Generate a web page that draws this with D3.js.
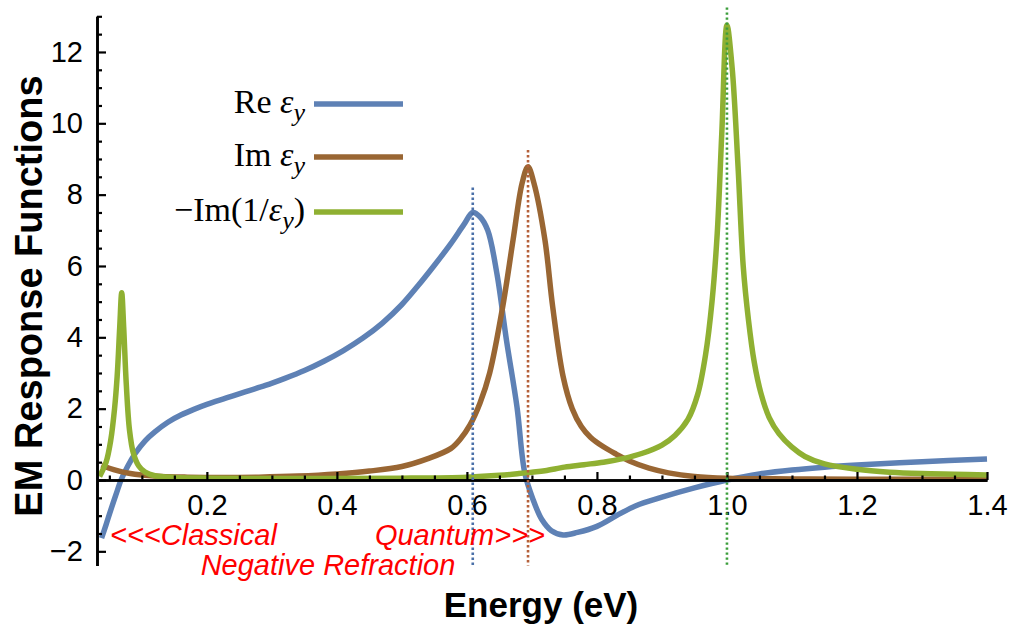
<!DOCTYPE html>
<html>
<head>
<meta charset="utf-8">
<script src="https://cdn.jsdelivr.net/npm/d3@7"></script>
<style>
body{margin:0;background:#fff;}
svg{display:block;}
</style>
</head>
<body>
<div id="chart"></div>
<script>
// values
var reEnergy = [0.038,0.045,0.052,0.06,0.068,0.078,0.09,0.105,0.12,0.14,0.16,0.18,0.2,0.23,0.26,0.29,0.32,0.35,0.38,0.41,0.44,0.47,0.5,0.525,0.55,0.575,0.595,0.609,0.62,0.632,0.646,0.661,0.677,0.689,0.702,0.715,0.73,0.748,0.77,0.8,0.83,0.86,0.9,0.95,1.0,1.05,1.1,1.15,1.2,1.3,1.4];
var reValue  = [-1.63,-1.25,-0.85,-0.42,0,0.38,0.75,1.1,1.35,1.62,1.82,1.98,2.12,2.3,2.48,2.65,2.85,3.07,3.33,3.63,3.98,4.4,4.92,5.45,6.02,6.62,7.15,7.5,7.38,7.0,5.8,3.9,2.05,0.2,-0.56,-1.1,-1.42,-1.54,-1.47,-1.3,-1.0,-0.72,-0.48,-0.22,0,0.17,0.28,0.36,0.42,0.51,0.59];

var imEnergy = [0.038,0.05,0.065,0.08,0.1,0.13,0.17,0.22,0.28,0.34,0.4,0.45,0.5,0.54,0.575,0.59,0.605,0.62,0.635,0.655,0.671,0.685,0.694,0.703,0.72,0.732,0.748,0.762,0.776,0.79,0.81,0.83,0.85,0.88,0.91,0.95,1.0,1.1,1.2,1.3,1.4];
var imValue  = [0.42,0.33,0.25,0.19,0.14,0.1,0.08,0.07,0.08,0.11,0.17,0.25,0.38,0.6,0.88,1.15,1.55,2.15,3.0,4.85,6.73,8.33,8.78,8.33,6.73,4.85,2.9,2.0,1.5,1.2,0.93,0.72,0.53,0.33,0.2,0.1,0.05,0.03,0.02,0.02,0.02];

var elEnergy = [0.035,0.045,0.052,0.058,0.062,0.066,0.069,0.072,0.076,0.081,0.087,0.095,0.105,0.12,0.15,0.2,0.3,0.4,0.5,0.6,0.65,0.68,0.7,0.72,0.75,0.78,0.81,0.84,0.87,0.9,0.92,0.94,0.955,0.967,0.977,0.985,0.992,1.0,1.008,1.017,1.025,1.033,1.042,1.052,1.065,1.08,1.1,1.12,1.15,1.2,1.25,1.3,1.35,1.4];
var elValue  = [0.1,0.5,1.1,2.0,2.9,4.3,5.25,4.3,2.7,1.4,0.75,0.4,0.22,0.12,0.07,0.05,0.04,0.04,0.05,0.08,0.13,0.18,0.22,0.26,0.36,0.43,0.5,0.6,0.75,0.98,1.25,1.7,2.4,3.5,5.0,6.9,9.7,12.75,11.55,8.8,6.0,4.5,3.3,2.45,1.75,1.3,0.92,0.66,0.45,0.3,0.22,0.18,0.16,0.14];

// marker lines: energy and top value
var markEnergy = [0.609, 0.694, 1.0];
var markTop = [8.2, 9.25, 13.25];

var xMajor = [0.2,0.4,0.6,0.8,1.0,1.2,1.4];
var yMajor = [-2,0,2,4,6,8,10,12];

var colors = {re:"#5e81b5", im:"#996633", el:"#8fb032"};
var markColors = ["#4b70a8","#b5603a","#3c9e3c"];

var screen = {width:1018, height:630};

var svg = d3.select("#chart")
    .append("svg")
    .attr("width",screen.width)
    .attr("height",screen.height);

var xScale = d3.scaleLinear()
    .domain([0.031,1.4])
    .range([97,987]);

var yScale = d3.scaleLinear()
    .domain([-2.4,13.0])
    .range([565.6,16.3]);

//minor ticks
var xMinor = d3.range(0.05,1.401,0.05).filter(function(v){
    return !xMajor.some(function(m){return Math.abs(m-v)<1e-6;});
});
var yMinor = d3.range(-2,13.01,0.5).filter(function(v){
    return v % 2 !== 0;
});

var axisStyle = function(g){
    g.selectAll("path").attr("stroke","#000").attr("stroke-width",2.6);
    g.selectAll("line").attr("stroke","#000").attr("stroke-width",2.2);
    g.selectAll("text")
        .attr("font-family","'Liberation Sans', Arial, sans-serif")
        .attr("font-size",29)
        .attr("fill","#000");
};

var plot = svg.append("g");

var line = function(xs, ys){
    return d3.line()
        .x(function(d,i){return xScale(xs[i]);})
        .y(function(d){return yScale(d);})
        .curve(d3.curveCatmullRom.alpha(0.5))(ys);
};

plot.append("path")
    .attr("d",line(reEnergy,reValue))
    .attr("fill","none").attr("stroke",colors.re).attr("stroke-width",5.5)
    .attr("stroke-linejoin","round");
plot.append("path")
    .attr("d",line(imEnergy,imValue))
    .attr("fill","none").attr("stroke",colors.im).attr("stroke-width",5.5)
    .attr("stroke-linejoin","round");
plot.append("path")
    .attr("d",line(elEnergy,elValue))
    .attr("fill","none").attr("stroke",colors.el).attr("stroke-width",5.5)
    .attr("stroke-linejoin","round");

// x axis (ticks pointing up)
var xAxisG = svg.append("g").attr("transform","translate(0,"+yScale(0)+")");
xAxisG.append("g")
    .call(d3.axisBottom(xScale).tickValues(xMinor).tickSize(-4.5).tickSizeOuter(0).tickFormat(""))
    .call(axisStyle);
xAxisG.append("g")
    .call(d3.axisBottom(xScale).tickValues(xMajor).tickSize(-8).tickSizeOuter(0).tickPadding(14)
        .tickFormat(d3.format(".1f")))
    .call(axisStyle);

// y axis (ticks pointing right)
var yAxisG = svg.append("g").attr("transform","translate("+xScale.range()[0]+",0)");
yAxisG.append("g")
    .call(d3.axisLeft(yScale).tickValues(yMinor).tickSize(-5).tickSizeOuter(0).tickFormat(""))
    .call(axisStyle);
yAxisG.append("g")
    .call(d3.axisLeft(yScale).tickValues(yMajor).tickSize(-9).tickSizeOuter(0).tickPadding(14)
        .tickFormat(d3.format("d")))
    .call(axisStyle);

// dotted marker lines
svg.append("g").selectAll("line")
    .data(markEnergy)
    .enter()
    .append("line")
    .attr("x1",function(d){return xScale(d);})
    .attr("x2",function(d){return xScale(d);})
    .attr("y1",function(d,i){return yScale(markTop[i]);})
    .attr("y2",yScale(-2.4))
    .attr("stroke",function(d,i){return markColors[i];})
    .attr("stroke-width",2.6)
    .attr("stroke-dasharray","2.4,2.6");

// axis titles
svg.append("text")
    .attr("transform","translate(42,296) rotate(-90)")
    .attr("text-anchor","middle")
    .attr("font-family","'Liberation Sans', Arial, sans-serif")
    .attr("font-weight","bold")
    .attr("font-size",38)
    .text("EM Response Functions");

svg.append("text")
    .attr("x",541).attr("y",617)
    .attr("text-anchor","middle")
    .attr("font-family","'Liberation Sans', Arial, sans-serif")
    .attr("font-weight","bold")
    .attr("font-size",35)
    .text("Energy (eV)");

// red annotations
var notes = [
    {t:"<<<Classical", x:110, y:545, anchor:"start"},
    {t:"Quantum>>>", x:545, y:545, anchor:"end"},
    {t:"Negative Refraction", x:328, y:575, anchor:"middle"}
];
svg.append("g").selectAll("text")
    .data(notes)
    .enter()
    .append("text")
    .attr("x",function(d){return d.x;})
    .attr("y",function(d){return d.y;})
    .attr("text-anchor",function(d){return d.anchor;})
    .attr("font-family","'Liberation Sans', Arial, sans-serif")
    .attr("font-style","italic")
    .attr("font-size",29)
    .attr("fill","#ff0000")
    .text(function(d){return d.t;});

// legend
var legendRows = [
    {pre:"Re ", post:"", color:colors.re, y:104},
    {pre:"Im ", post:"", color:colors.im, y:157},
    {pre:"\u2212Im(1/", post:")", color:colors.el, y:212}
];
var legend = svg.append("g");
legendRows.forEach(function(r){
    var t = legend.append("text")
        .attr("x",305).attr("y",r.y+9)
        .attr("text-anchor","end")
        .attr("font-family","'Liberation Serif', 'Times New Roman', serif")
        .attr("font-size",34)
        .attr("fill","#000");
    t.append("tspan").text(r.pre);
    t.append("tspan").attr("font-style","italic").text("\u03b5");
    t.append("tspan").attr("font-style","italic").attr("font-size",26).attr("dy",8).text("y");
    if(r.post){
        t.append("tspan").attr("dy",-8).text(r.post);
    }
    legend.append("line")
        .attr("x1",314).attr("x2",403)
        .attr("y1",r.y).attr("y2",r.y)
        .attr("stroke",r.color)
        .attr("stroke-width",5.5);
});
</script>
</body>
</html>
